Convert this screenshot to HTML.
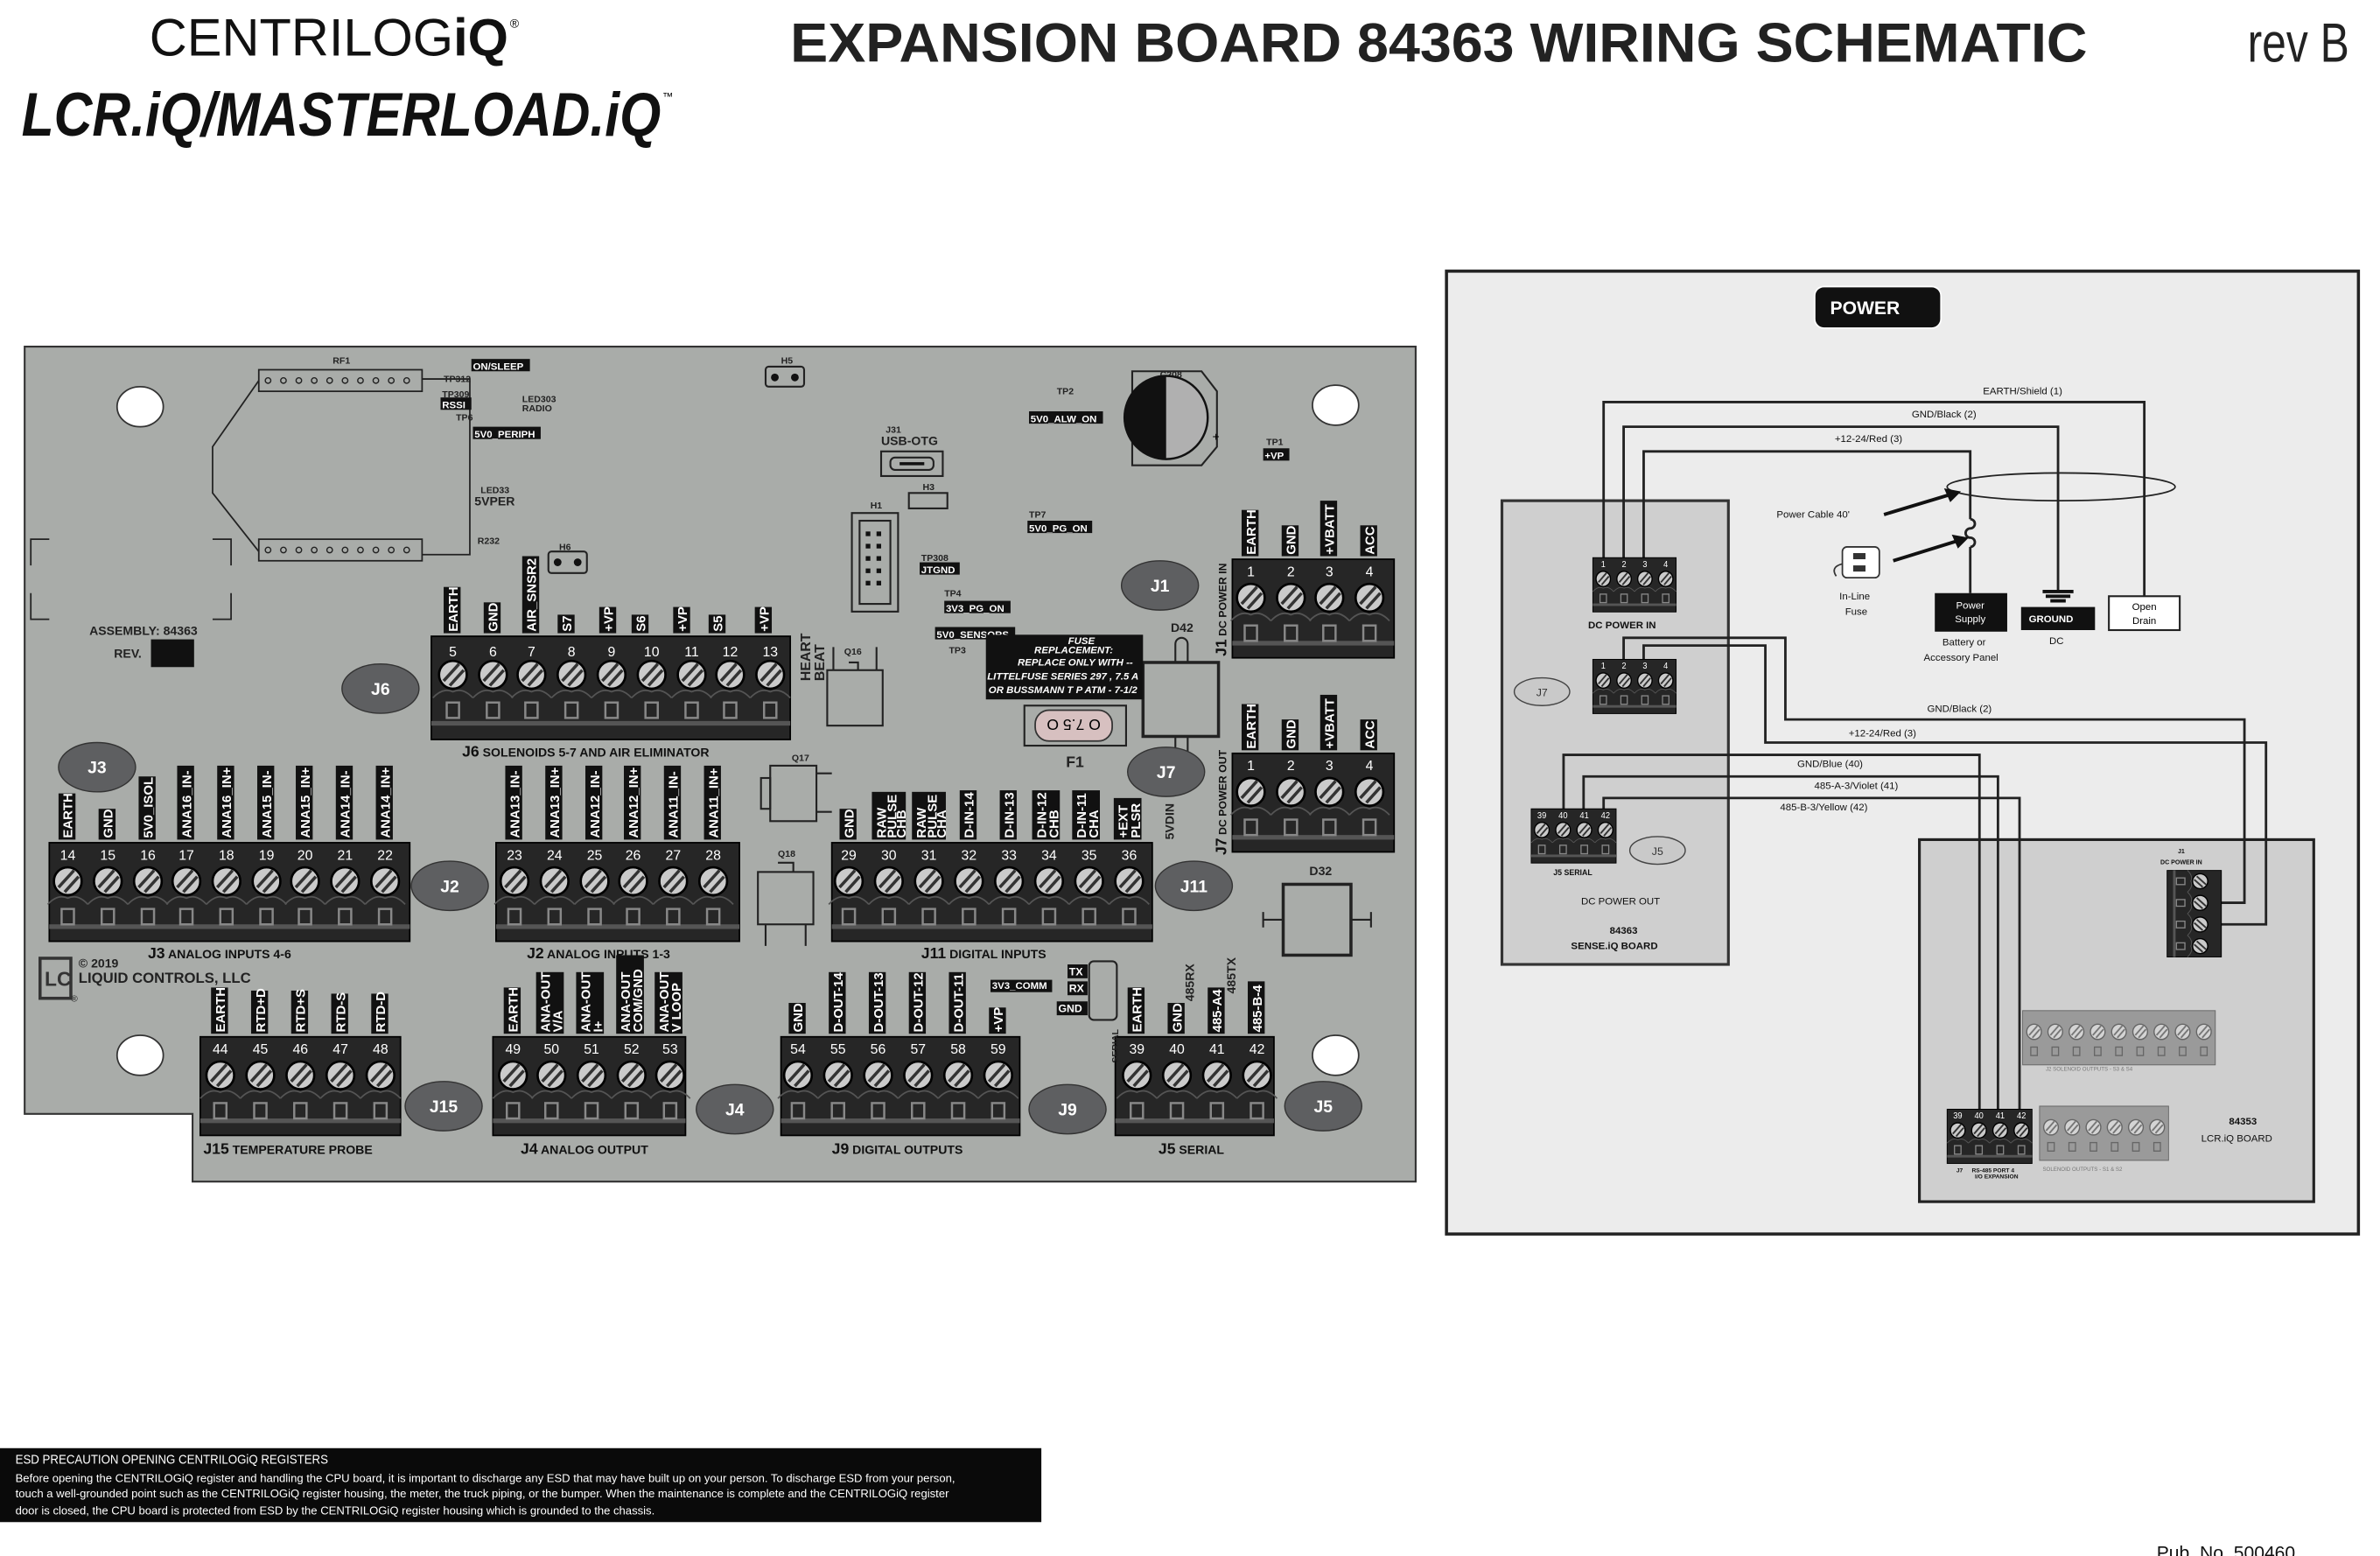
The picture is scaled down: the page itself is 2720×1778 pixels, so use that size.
<!DOCTYPE html>
<html><head><meta charset="utf-8"><style>
html,body{margin:0;padding:0;background:#fff}
svg{display:block}
text{font-family:"Liberation Sans",sans-serif}
.w{fill:#fff}.b{font-weight:bold}
</style></head><body>
<svg width="2720" height="1778" viewBox="0 0 1545 1010" preserveAspectRatio="none" xmlns="http://www.w3.org/2000/svg" xmlns:xlink="http://www.w3.org/1999/xlink">
<defs>
<g id="pin"><path d="M-13,40 q6.5,-7 13,-4 q6.5,-3 13,4" fill="none" stroke="#555" stroke-width="1"/><circle cy="25" r="9" fill="#cacaca" stroke="#000" stroke-width="1.5"/><path d="M-6,29 L4,18 M-2,32 L7,22" stroke="#333" stroke-width="2"/><rect x="-4" y="43" width="8" height="10" fill="none" stroke="#888" stroke-width="1.4"/></g>
<g id="pinG"><circle cy="25" r="9" fill="#d4d4d4" stroke="#666" stroke-width="1.5"/><path d="M-6,29 L4,18 M-2,32 L7,22" stroke="#777" stroke-width="2"/><rect x="-4" y="43" width="8" height="10" fill="none" stroke="#666" stroke-width="1.4"/></g>
</defs>
<rect width="1545" height="1010" fill="#fff"/>
<!-- Header -->
<text x="97" y="36" font-size="34" textLength="233" lengthAdjust="spacingAndGlyphs" fill="#111">CENTRILOG<tspan class="b">iQ</tspan></text>
<text x="331" y="18" font-size="8">®</text>
<text x="14" y="88" font-size="40" font-weight="bold" font-style="italic" textLength="415" lengthAdjust="spacingAndGlyphs" fill="#111">LCR.iQ/MASTERLOAD.iQ</text>
<text x="430" y="65" font-size="7">™</text>
<text x="513" y="40" font-size="36" font-weight="bold" textLength="842" lengthAdjust="spacingAndGlyphs" fill="#222">EXPANSION BOARD 84363 WIRING SCHEMATIC</text>
<text x="1459" y="40" font-size="36" textLength="66" lengthAdjust="spacingAndGlyphs" fill="#222">rev B</text>

<!-- Main board -->
<polygon points="16,225 919,225 919,767 125,767 125,723 16,723" fill="#a9aca9" stroke="#333" stroke-width="1.2"/>
<g fill="#fff" stroke="#333"><ellipse cx="91" cy="264" rx="15" ry="13"/><ellipse cx="867" cy="263" rx="15" ry="13"/><ellipse cx="91" cy="685" rx="15" ry="13"/><ellipse cx="867" cy="685" rx="15" ry="13"/></g>
<!-- RF1 -->
<g stroke="#222" fill="none" stroke-width="1"><rect x="168" y="240" width="106" height="14"/><rect x="168" y="350" width="106" height="14"/><polyline points="274,246 305,246 305,360 274,360"/><polyline points="168,247 138,290 138,320 168,358"/>
<path d="M20,367 V350 H32 M138,350 H150 V367 M20,385 V402 H32 M138,402 H150 V385"/></g>
<g fill="none" stroke="#222" stroke-width="0.8"><circle cx="174" cy="247" r="1.8"/><circle cx="184" cy="247" r="1.8"/><circle cx="194" cy="247" r="1.8"/><circle cx="204" cy="247" r="1.8"/><circle cx="214" cy="247" r="1.8"/><circle cx="224" cy="247" r="1.8"/><circle cx="234" cy="247" r="1.8"/><circle cx="244" cy="247" r="1.8"/><circle cx="254" cy="247" r="1.8"/><circle cx="264" cy="247" r="1.8"/>
<circle cx="174" cy="357" r="1.8"/><circle cx="184" cy="357" r="1.8"/><circle cx="194" cy="357" r="1.8"/><circle cx="204" cy="357" r="1.8"/><circle cx="214" cy="357" r="1.8"/><circle cx="224" cy="357" r="1.8"/><circle cx="234" cy="357" r="1.8"/><circle cx="244" cy="357" r="1.8"/><circle cx="254" cy="357" r="1.8"/><circle cx="264" cy="357" r="1.8"/></g>
<g font-size="6" font-weight="bold" fill="#222">
<text x="216" y="236">RF1</text><text x="288" y="248">TP312</text><text x="287" y="258">TP309</text><text x="296" y="273">TP6</text>
<text x="339" y="261">LED303</text><text x="339" y="267">RADIO</text><text x="312" y="320">LED33</text><text x="308" y="328" font-size="8">5VPER</text><text x="310" y="353">R232</text>
<text x="58" y="412" font-size="8">ASSEMBLY: 84363</text><text x="74" y="427" font-size="8">REV.</text>
<text x="507" y="236">H5</text><text x="575" y="281">J31</text><text x="572" y="289" font-size="8">USB-OTG</text><text x="599" y="318">H3</text><text x="565" y="330">H1</text>
<text x="753" y="245">C208</text><text x="686" y="256">TP2</text><text x="822" y="289">TP1</text><text x="668" y="336">TP7</text><text x="598" y="364">TP308</text><text x="613" y="387">TP4</text><text x="616" y="424">TP3</text>
<text x="760" y="410" font-size="8">D42</text><text x="692" y="498" font-size="10">F1</text><text x="850" y="568" font-size="8">D32</text>
<text x="514" y="494">Q17</text><text x="505" y="556">Q18</text><text x="548" y="425">Q16</text><text x="363" y="357">H6</text>
</g>
<rect x="98" y="415" width="28" height="18" fill="#111"/>
<g fill="#111"><rect x="306" y="233" width="38" height="8"/><rect x="286" y="258" width="20" height="8"/><rect x="307" y="277" width="44" height="8"/><rect x="668" y="267" width="48" height="8"/><rect x="820" y="291" width="17" height="8"/><rect x="667" y="338" width="42" height="8"/><rect x="597" y="365" width="26" height="8"/><rect x="613" y="390" width="43" height="8"/><rect x="607" y="407" width="52" height="8"/></g>
<g font-size="6.5" font-weight="bold" fill="#fff"><text x="307" y="240">ON/SLEEP</text><text x="287" y="265">RSSI</text><text x="308" y="284">5V0_PERIPH</text><text x="669" y="274">5V0_ALW_ON</text><text x="821" y="298">+VP</text><text x="668" y="345">5V0_PG_ON</text><text x="598" y="372">JTGND</text><text x="614" y="397">3V3_PG_ON</text><text x="608" y="414">5V0_SENSORS</text></g>
<!-- components -->
<g stroke="#222" fill="none" stroke-width="1.2">
<rect x="497" y="238" width="25" height="13" rx="2"/><rect x="356" y="358" width="25" height="14" rx="2"/>
<rect x="572" y="293" width="40" height="16"/><rect x="578" y="297" width="28" height="8" rx="3"/>
<rect x="590" y="320" width="25" height="10"/>
<rect x="553" y="333" width="30" height="64"/><rect x="558" y="338" width="20" height="54"/>
<path d="M735,241 H780 L790,254 V290 L780,302 H735 Z"/>
<rect x="537" y="435" width="36" height="36" fill="#a9aca9"/><path d="M541,420 V435 M569,420 V435 M551,430 H557 V435"/>
<rect x="500" y="497" width="30" height="36"/><rect x="494" y="505" width="6" height="20"/><path d="M530,502 H540 M530,527 H540"/>
<rect x="492" y="566" width="36" height="34"/><path d="M497,600 V614 M523,600 V614 M505,560 H515 V566"/>
<rect x="742" y="430" width="49" height="48" stroke-width="2"/><path d="M763,430 V418 a4,4 0 0 1 8,0 V430 M763,478 V490 M771,478 V490"/>
<rect x="833" y="574" width="44" height="46" stroke-width="2"/><path d="M833,597 H820 M877,597 H890 M820,592 V602 M890,592 V602"/>
<rect x="665" y="458" width="66" height="26"/>
<rect x="707" y="624" width="18" height="38" rx="3"/>
</g>
<g fill="#111"><circle cx="503" cy="245" r="2.5"/><circle cx="516" cy="245" r="2.5"/><circle cx="362" cy="365" r="2.5"/><circle cx="375" cy="365" r="2.5"/><rect x="584" y="300" width="16" height="2"/>
<rect x="562" y="345" width="3" height="3"/><rect x="569" y="345" width="3" height="3"/><rect x="562" y="353" width="3" height="3"/><rect x="569" y="353" width="3" height="3"/><rect x="562" y="361" width="3" height="3"/><rect x="569" y="361" width="3" height="3"/><rect x="562" y="369" width="3" height="3"/><rect x="569" y="369" width="3" height="3"/><rect x="562" y="377" width="3" height="3"/><rect x="569" y="377" width="3" height="3"/></g>
<circle cx="757" cy="271" r="27" fill="#b0b0b0" stroke="#111" stroke-width="1.4"/><path d="M757,244 A27,27 0 0 0 757,298 Z" fill="#111"/><text x="787" y="286" font-size="8">+</text>
<rect x="672" y="461" width="50" height="20" rx="9" fill="#d7c0c0" stroke="#333"/><text x="697" y="475" font-size="10" text-anchor="middle" transform="rotate(180 697 471)">O 7.5 O</text>
<rect x="640" y="412" width="102" height="42" fill="#111"/>
<g font-size="6.5" font-weight="bold" font-style="italic" fill="#fff" text-anchor="middle"><text x="702" y="418">FUSE</text><text x="697" y="424">REPLACEMENT:</text><text x="698" y="432">REPLACE ONLY WITH --</text><text x="690" y="441">LITTELFUSE SERIES 297 , 7.5 A</text><text x="690" y="450">OR BUSSMANN T  P   ATM - 7-1/2</text></g>
<!-- H2 serial -->
<rect x="693" y="626" width="13" height="9" fill="#111"/><rect x="693" y="637" width="13" height="9" fill="#111"/><rect x="686" y="650" width="20" height="9" fill="#111"/><rect x="643" y="636" width="40" height="8" fill="#111"/>
<g font-size="7" font-weight="bold" fill="#fff"><text x="694" y="633">TX</text><text x="694" y="644">RX</text><text x="687" y="657">GND</text><text x="644" y="642" font-size="6.5">3V3_COMM</text></g>

<!-- Terminal blocks -->
<g id="J6blk">
<rect x="280" y="413" width="233" height="67" fill="#262626" stroke="#000"/><rect x="280" y="468" width="233" height="3" fill="#555"/>
<g transform="translate(0,413)"><use xlink:href="#pin" x="294"/><use xlink:href="#pin" x="320"/><use xlink:href="#pin" x="345"/><use xlink:href="#pin" x="371"/><use xlink:href="#pin" x="397"/><use xlink:href="#pin" x="423"/><use xlink:href="#pin" x="449"/><use xlink:href="#pin" x="474"/><use xlink:href="#pin" x="500"/></g>
<g font-size="9" fill="#fff" text-anchor="middle"><text x="294" y="426">5</text><text x="320" y="426">6</text><text x="345" y="426">7</text><text x="371" y="426">8</text><text x="397" y="426">9</text><text x="423" y="426">10</text><text x="449" y="426">11</text><text x="474" y="426">12</text><text x="500" y="426">13</text></g>
</g>
<text x="300" y="491" font-size="8" font-weight="bold" fill="#111"><tspan font-size="10">J6</tspan> SOLENOIDS 5-7 AND AIR ELIMINATOR</text>

<g>
<rect x="32" y="547" width="234" height="64" fill="#262626" stroke="#000"/><rect x="32" y="600" width="234" height="3" fill="#555"/>
<g transform="translate(0,547)"><use xlink:href="#pin" x="44"/><use xlink:href="#pin" x="70"/><use xlink:href="#pin" x="96"/><use xlink:href="#pin" x="121"/><use xlink:href="#pin" x="147"/><use xlink:href="#pin" x="173"/><use xlink:href="#pin" x="198"/><use xlink:href="#pin" x="224"/><use xlink:href="#pin" x="250"/></g>
<g font-size="9" fill="#fff" text-anchor="middle"><text x="44" y="558">14</text><text x="70" y="558">15</text><text x="96" y="558">16</text><text x="121" y="558">17</text><text x="147" y="558">18</text><text x="173" y="558">19</text><text x="198" y="558">20</text><text x="224" y="558">21</text><text x="250" y="558">22</text></g>
</g>
<text x="96" y="622" font-size="8" font-weight="bold" fill="#111"><tspan font-size="10">J3</tspan> ANALOG INPUTS 4-6</text>

<g>
<rect x="322" y="547" width="158" height="64" fill="#262626" stroke="#000"/><rect x="322" y="600" width="158" height="3" fill="#555"/>
<g transform="translate(0,547)"><use xlink:href="#pin" x="334"/><use xlink:href="#pin" x="360"/><use xlink:href="#pin" x="386"/><use xlink:href="#pin" x="411"/><use xlink:href="#pin" x="437"/><use xlink:href="#pin" x="463"/></g>
<g font-size="9" fill="#fff" text-anchor="middle"><text x="334" y="558">23</text><text x="360" y="558">24</text><text x="386" y="558">25</text><text x="411" y="558">26</text><text x="437" y="558">27</text><text x="463" y="558">28</text></g>
</g>
<text x="342" y="622" font-size="8" font-weight="bold" fill="#111"><tspan font-size="10">J2</tspan> ANALOG INPUTS 1-3</text>

<g>
<rect x="540" y="547" width="208" height="64" fill="#262626" stroke="#000"/><rect x="540" y="600" width="208" height="3" fill="#555"/>
<g transform="translate(0,547)"><use xlink:href="#pin" x="551"/><use xlink:href="#pin" x="577"/><use xlink:href="#pin" x="603"/><use xlink:href="#pin" x="629"/><use xlink:href="#pin" x="655"/><use xlink:href="#pin" x="681"/><use xlink:href="#pin" x="707"/><use xlink:href="#pin" x="733"/></g>
<g font-size="9" fill="#fff" text-anchor="middle"><text x="551" y="558">29</text><text x="577" y="558">30</text><text x="603" y="558">31</text><text x="629" y="558">32</text><text x="655" y="558">33</text><text x="681" y="558">34</text><text x="707" y="558">35</text><text x="733" y="558">36</text></g>
</g>
<text x="598" y="622" font-size="8" font-weight="bold" fill="#111"><tspan font-size="10">J11</tspan> DIGITAL INPUTS</text>

<g>
<rect x="130" y="673" width="130" height="64" fill="#262626" stroke="#000"/><rect x="130" y="726" width="130" height="3" fill="#555"/>
<g transform="translate(0,673)"><use xlink:href="#pin" x="143"/><use xlink:href="#pin" x="169"/><use xlink:href="#pin" x="195"/><use xlink:href="#pin" x="221"/><use xlink:href="#pin" x="247"/></g>
<g font-size="9" fill="#fff" text-anchor="middle"><text x="143" y="684">44</text><text x="169" y="684">45</text><text x="195" y="684">46</text><text x="221" y="684">47</text><text x="247" y="684">48</text></g>
</g>
<text x="132" y="749" font-size="8" font-weight="bold" fill="#111"><tspan font-size="10">J15</tspan> TEMPERATURE PROBE</text>

<g>
<rect x="320" y="673" width="125" height="64" fill="#262626" stroke="#000"/><rect x="320" y="726" width="125" height="3" fill="#555"/>
<g transform="translate(0,673)"><use xlink:href="#pin" x="333"/><use xlink:href="#pin" x="358"/><use xlink:href="#pin" x="384"/><use xlink:href="#pin" x="410"/><use xlink:href="#pin" x="435"/></g>
<g font-size="9" fill="#fff" text-anchor="middle"><text x="333" y="684">49</text><text x="358" y="684">50</text><text x="384" y="684">51</text><text x="410" y="684">52</text><text x="435" y="684">53</text></g>
</g>
<text x="338" y="749" font-size="8" font-weight="bold" fill="#111"><tspan font-size="10">J4</tspan> ANALOG OUTPUT</text>

<g>
<rect x="507" y="673" width="155" height="64" fill="#262626" stroke="#000"/><rect x="507" y="726" width="155" height="3" fill="#555"/>
<g transform="translate(0,673)"><use xlink:href="#pin" x="518"/><use xlink:href="#pin" x="544"/><use xlink:href="#pin" x="570"/><use xlink:href="#pin" x="596"/><use xlink:href="#pin" x="622"/><use xlink:href="#pin" x="648"/></g>
<g font-size="9" fill="#fff" text-anchor="middle"><text x="518" y="684">54</text><text x="544" y="684">55</text><text x="570" y="684">56</text><text x="596" y="684">57</text><text x="622" y="684">58</text><text x="648" y="684">59</text></g>
</g>
<text x="540" y="749" font-size="8" font-weight="bold" fill="#111"><tspan font-size="10">J9</tspan> DIGITAL OUTPUTS</text>

<g>
<rect x="724" y="673" width="103" height="64" fill="#262626" stroke="#000"/><rect x="724" y="726" width="103" height="3" fill="#555"/>
<g transform="translate(0,673)"><use xlink:href="#pin" x="738"/><use xlink:href="#pin" x="764"/><use xlink:href="#pin" x="790"/><use xlink:href="#pin" x="816"/></g>
<g font-size="9" fill="#fff" text-anchor="middle"><text x="738" y="684">39</text><text x="764" y="684">40</text><text x="790" y="684">41</text><text x="816" y="684">42</text></g>
</g>
<text x="752" y="749" font-size="8" font-weight="bold" fill="#111"><tspan font-size="10">J5</tspan> SERIAL</text>

<g>
<rect x="800" y="363" width="105" height="64" fill="#262626" stroke="#000"/><rect x="800" y="416" width="105" height="3" fill="#555"/>
<g transform="translate(0,363)"><use xlink:href="#pin" x="812"/><use xlink:href="#pin" x="838"/><use xlink:href="#pin" x="863"/><use xlink:href="#pin" x="889"/></g>
<g font-size="9" fill="#fff" text-anchor="middle"><text x="812" y="374">1</text><text x="838" y="374">2</text><text x="863" y="374">3</text><text x="889" y="374">4</text></g>
</g>
<g>
<rect x="800" y="489" width="105" height="64" fill="#262626" stroke="#000"/><rect x="800" y="542" width="105" height="3" fill="#555"/>
<g transform="translate(0,489)"><use xlink:href="#pin" x="812"/><use xlink:href="#pin" x="838"/><use xlink:href="#pin" x="863"/><use xlink:href="#pin" x="889"/></g>
<g font-size="9" fill="#fff" text-anchor="middle"><text x="812" y="500">1</text><text x="838" y="500">2</text><text x="863" y="500">3</text><text x="889" y="500">4</text></g>
</g>
<text transform="translate(796,426) rotate(-90)" font-size="7" font-weight="bold" fill="#111"><tspan font-size="10">J1</tspan> DC POWER IN</text>
<text transform="translate(796,555) rotate(-90)" font-size="7" font-weight="bold" fill="#111"><tspan font-size="10">J7</tspan> DC POWER OUT</text>
<text transform="translate(526,442) rotate(-90)" font-size="9" font-weight="bold" fill="#222">HEART</text>
<text transform="translate(535,442) rotate(-90)" font-size="9" font-weight="bold" fill="#222">BEAT</text>
<text transform="translate(762,545) rotate(-90)" font-size="8" font-weight="bold" fill="#222">5VDIN</text>
<text transform="translate(726,690) rotate(-90)" font-size="6" font-weight="bold" fill="#222">SERIAL</text>

<!-- rotated labels with black background -->
<g font-size="8.5" font-weight="bold" fill="#fff">
<!-- J6 -->
<g transform="translate(289,411) rotate(-90)"><rect y="-1" width="30" height="11" fill="#111"/><text x="1" y="8">EARTH</text></g>
<g transform="translate(315,411) rotate(-90)"><rect y="-1" width="20" height="11" fill="#111"/><text x="1" y="8">GND</text></g>
<g transform="translate(340,411) rotate(-90)"><rect y="-1" width="50" height="11" fill="#111"/><text x="1" y="8">AIR_SNSR2</text></g>
<g transform="translate(363,411) rotate(-90)"><rect y="-1" width="12" height="11" fill="#111"/><text x="1" y="8">S7</text></g>
<g transform="translate(390,411) rotate(-90)"><rect y="-1" width="17" height="11" fill="#111"/><text x="1" y="8">+VP</text></g>
<g transform="translate(411,411) rotate(-90)"><rect y="-1" width="12" height="11" fill="#111"/><text x="1" y="8">S6</text></g>
<g transform="translate(438,411) rotate(-90)"><rect y="-1" width="17" height="11" fill="#111"/><text x="1" y="8">+VP</text></g>
<g transform="translate(461,411) rotate(-90)"><rect y="-1" width="12" height="11" fill="#111"/><text x="1" y="8">S5</text></g>
<g transform="translate(491,411) rotate(-90)"><rect y="-1" width="17" height="11" fill="#111"/><text x="1" y="8">+VP</text></g>
<!-- J3 -->
<g transform="translate(39,545) rotate(-90)"><rect y="-1" width="30" height="11" fill="#111"/><text x="1" y="8">EARTH</text></g>
<g transform="translate(65,545) rotate(-90)"><rect y="-1" width="20" height="11" fill="#111"/><text x="1" y="8">GND</text></g>
<g transform="translate(91,545) rotate(-90)"><rect y="-1" width="41" height="11" fill="#111"/><text x="1" y="8">5V0_ISOL</text></g>
<g transform="translate(116,545) rotate(-90)"><rect y="-1" width="48" height="11" fill="#111"/><text x="1" y="8">ANA16_IN-</text></g>
<g transform="translate(142,545) rotate(-90)"><rect y="-1" width="48" height="11" fill="#111"/><text x="1" y="8">ANA16_IN+</text></g>
<g transform="translate(168,545) rotate(-90)"><rect y="-1" width="48" height="11" fill="#111"/><text x="1" y="8">ANA15_IN-</text></g>
<g transform="translate(193,545) rotate(-90)"><rect y="-1" width="48" height="11" fill="#111"/><text x="1" y="8">ANA15_IN+</text></g>
<g transform="translate(219,545) rotate(-90)"><rect y="-1" width="48" height="11" fill="#111"/><text x="1" y="8">ANA14_IN-</text></g>
<g transform="translate(245,545) rotate(-90)"><rect y="-1" width="48" height="11" fill="#111"/><text x="1" y="8">ANA14_IN+</text></g>
<!-- J2 -->
<g transform="translate(329,545) rotate(-90)"><rect y="-1" width="48" height="11" fill="#111"/><text x="1" y="8">ANA13_IN-</text></g>
<g transform="translate(355,545) rotate(-90)"><rect y="-1" width="48" height="11" fill="#111"/><text x="1" y="8">ANA13_IN+</text></g>
<g transform="translate(381,545) rotate(-90)"><rect y="-1" width="48" height="11" fill="#111"/><text x="1" y="8">ANA12_IN-</text></g>
<g transform="translate(406,545) rotate(-90)"><rect y="-1" width="48" height="11" fill="#111"/><text x="1" y="8">ANA12_IN+</text></g>
<g transform="translate(432,545) rotate(-90)"><rect y="-1" width="48" height="11" fill="#111"/><text x="1" y="8">ANA11_IN-</text></g>
<g transform="translate(458,545) rotate(-90)"><rect y="-1" width="48" height="11" fill="#111"/><text x="1" y="8">ANA11_IN+</text></g>
<!-- J11 -->
<g transform="translate(546,545) rotate(-90)"><rect y="-1" width="20" height="11" fill="#111"/><text x="1" y="8">GND</text></g>
<g transform="translate(567,545) rotate(-90)"><rect y="-1" width="31" height="22" fill="#111"/><text x="1" y="8">RAW</text><text x="1" y="15">PULSE</text><text x="1" y="21">CHB</text></g>
<g transform="translate(593,545) rotate(-90)"><rect y="-1" width="31" height="22" fill="#111"/><text x="1" y="8">RAW</text><text x="1" y="15">PULSE</text><text x="1" y="21">CHA</text></g>
<g transform="translate(624,545) rotate(-90)"><rect y="-1" width="32" height="11" fill="#111"/><text x="1" y="8">D-IN-14</text></g>
<g transform="translate(650,545) rotate(-90)"><rect y="-1" width="32" height="11" fill="#111"/><text x="1" y="8">D-IN-13</text></g>
<g transform="translate(671,545) rotate(-90)"><rect y="-1" width="32" height="18" fill="#111"/><text x="1" y="8">D-IN-12</text><text x="1" y="16">CHB</text></g>
<g transform="translate(697,545) rotate(-90)"><rect y="-1" width="32" height="18" fill="#111"/><text x="1" y="8">D-IN-11</text><text x="1" y="16">CHA</text></g>
<g transform="translate(724,545) rotate(-90)"><rect y="-1" width="27" height="18" fill="#111"/><text x="1" y="8">+EXT</text><text x="1" y="16">PLSR</text></g>
<!-- J1/J7 -->
<g transform="translate(807,361) rotate(-90)"><rect y="-1" width="30" height="11" fill="#111"/><text x="1" y="8">EARTH</text></g>
<g transform="translate(833,361) rotate(-90)"><rect y="-1" width="20" height="11" fill="#111"/><text x="1" y="8">GND</text></g>
<g transform="translate(858,361) rotate(-90)"><rect y="-1" width="36" height="11" fill="#111"/><text x="1" y="8">+VBATT</text></g>
<g transform="translate(884,361) rotate(-90)"><rect y="-1" width="20" height="11" fill="#111"/><text x="1" y="8">ACC</text></g>
<g transform="translate(807,487) rotate(-90)"><rect y="-1" width="30" height="11" fill="#111"/><text x="1" y="8">EARTH</text></g>
<g transform="translate(833,487) rotate(-90)"><rect y="-1" width="20" height="11" fill="#111"/><text x="1" y="8">GND</text></g>
<g transform="translate(858,487) rotate(-90)"><rect y="-1" width="36" height="11" fill="#111"/><text x="1" y="8">+VBATT</text></g>
<g transform="translate(884,487) rotate(-90)"><rect y="-1" width="20" height="11" fill="#111"/><text x="1" y="8">ACC</text></g>
<!-- J15 -->
<g transform="translate(138,671) rotate(-90)"><rect y="-1" width="30" height="11" fill="#111"/><text x="1" y="8">EARTH</text></g>
<g transform="translate(164,671) rotate(-90)"><rect y="-1" width="28" height="11" fill="#111"/><text x="1" y="8">RTD+D</text></g>
<g transform="translate(190,671) rotate(-90)"><rect y="-1" width="28" height="11" fill="#111"/><text x="1" y="8">RTD+S</text></g>
<g transform="translate(216,671) rotate(-90)"><rect y="-1" width="26" height="11" fill="#111"/><text x="1" y="8">RTD-S</text></g>
<g transform="translate(242,671) rotate(-90)"><rect y="-1" width="26" height="11" fill="#111"/><text x="1" y="8">RTD-D</text></g>
<!-- J4 -->
<g transform="translate(328,671) rotate(-90)"><rect y="-1" width="30" height="11" fill="#111"/><text x="1" y="8">EARTH</text></g>
<g transform="translate(349,671) rotate(-90)"><rect y="-1" width="40" height="18" fill="#111"/><text x="1" y="8">ANA-OUT</text><text x="1" y="16">V/A</text></g>
<g transform="translate(375,671) rotate(-90)"><rect y="-1" width="40" height="18" fill="#111"/><text x="1" y="8">ANA-OUT</text><text x="1" y="16">I+</text></g>
<g transform="translate(401,671) rotate(-90)"><rect y="-1" width="51" height="18" fill="#111"/><text x="1" y="8">ANA-OUT</text><text x="1" y="16">COM/GND</text></g>
<g transform="translate(426,671) rotate(-90)"><rect y="-1" width="40" height="18" fill="#111"/><text x="1" y="8">ANA-OUT</text><text x="1" y="16">V LOOP</text></g>
<!-- J9 -->
<g transform="translate(513,671) rotate(-90)"><rect y="-1" width="20" height="11" fill="#111"/><text x="1" y="8">GND</text></g>
<g transform="translate(539,671) rotate(-90)"><rect y="-1" width="40" height="11" fill="#111"/><text x="1" y="8">D-OUT-14</text></g>
<g transform="translate(565,671) rotate(-90)"><rect y="-1" width="40" height="11" fill="#111"/><text x="1" y="8">D-OUT-13</text></g>
<g transform="translate(591,671) rotate(-90)"><rect y="-1" width="40" height="11" fill="#111"/><text x="1" y="8">D-OUT-12</text></g>
<g transform="translate(617,671) rotate(-90)"><rect y="-1" width="40" height="11" fill="#111"/><text x="1" y="8">D-OUT-11</text></g>
<g transform="translate(643,671) rotate(-90)"><rect y="-1" width="17" height="11" fill="#111"/><text x="1" y="8">+VP</text></g>
<!-- J5 -->
<g transform="translate(733,671) rotate(-90)"><rect y="-1" width="30" height="11" fill="#111"/><text x="1" y="8">EARTH</text></g>
<g transform="translate(759,671) rotate(-90)"><rect y="-1" width="20" height="11" fill="#111"/><text x="1" y="8">GND</text></g>
<g transform="translate(785,671) rotate(-90)"><rect y="-1" width="30" height="11" fill="#111"/><text x="1" y="8">485-A4</text></g>
<g transform="translate(811,671) rotate(-90)"><rect y="-1" width="34" height="11" fill="#111"/><text x="1" y="8">485-B-4</text></g>
</g>
<g font-size="8" font-weight="bold" fill="#222"><text transform="translate(775,650) rotate(-90)">485RX</text><text transform="translate(802,645) rotate(-90)">485TX</text></g>

<!-- ellipse labels -->
<g fill="#5e5f61" stroke="#333" stroke-width="0.8">
<ellipse cx="247" cy="447" rx="25" ry="16"/><ellipse cx="63" cy="498" rx="25" ry="16"/><ellipse cx="292" cy="575" rx="25" ry="16"/><ellipse cx="775" cy="575" rx="25" ry="16"/><ellipse cx="753" cy="380" rx="25" ry="16"/><ellipse cx="757" cy="501" rx="25" ry="16"/><ellipse cx="288" cy="718" rx="25" ry="16"/><ellipse cx="477" cy="720" rx="25" ry="16"/><ellipse cx="693" cy="720" rx="25" ry="16"/><ellipse cx="859" cy="718" rx="25" ry="16"/></g>
<g font-family="Liberation Serif,serif" font-size="11" font-weight="bold" fill="#fff" text-anchor="middle">
<text x="247" y="451" font-family="Liberation Serif,serif">J6</text><text x="63" y="502" font-family="Liberation Serif,serif">J3</text><text x="292" y="579" font-family="Liberation Serif,serif">J2</text><text x="775" y="579" font-family="Liberation Serif,serif">J11</text><text x="753" y="384" font-family="Liberation Serif,serif">J1</text><text x="757" y="505" font-family="Liberation Serif,serif">J7</text><text x="288" y="722" font-family="Liberation Serif,serif">J15</text><text x="477" y="724" font-family="Liberation Serif,serif">J4</text><text x="693" y="724" font-family="Liberation Serif,serif">J9</text><text x="859" y="722" font-family="Liberation Serif,serif">J5</text></g>
<!-- LC logo -->
<rect x="26" y="622" width="20" height="26" fill="none" stroke="#333" stroke-width="2"/><text x="29" y="640" font-size="13" font-weight="bold" fill="#333">LC</text>
<text x="51" y="628" font-size="8" font-weight="bold" fill="#222">© 2019</text><text x="51" y="638" font-size="9.5" font-weight="bold" fill="#222">LIQUID CONTROLS, LLC</text><text x="46" y="650" font-size="6" fill="#222">®</text>

<!-- ESD -->
<rect x="0" y="940" width="676" height="48" fill="#0a0a0a"/>
<g fill="#fff" font-size="7.5"><text x="10" y="950" font-size="8.5" textLength="203" lengthAdjust="spacingAndGlyphs">ESD PRECAUTION OPENING CENTRILOGiQ REGISTERS</text>
<text x="10" y="962" textLength="610" lengthAdjust="spacingAndGlyphs">Before opening the CENTRILOGiQ register and handling the CPU board, it is important to discharge any ESD that may have built up on your person. To discharge ESD from your person,</text>
<text x="10" y="972" textLength="606" lengthAdjust="spacingAndGlyphs">touch a well-grounded point such as the CENTRILOGiQ register housing, the meter, the truck piping, or the bumper. When the maintenance is complete and the CENTRILOGiQ register</text>
<text x="10" y="983" textLength="415" lengthAdjust="spacingAndGlyphs">door is closed, the CPU board is protected from ESD by the CENTRILOGiQ register housing which is grounded to the chassis.</text></g>
<text x="1400" y="1012" font-size="12" fill="#111">Pub. No. 500460</text>

<!-- POWER panel -->
<rect x="939" y="176" width="592" height="625" fill="#ececec" stroke="#222" stroke-width="2"/>
<rect x="1178" y="186" width="82" height="27" rx="6" fill="#111" stroke="#fff" stroke-width="1"/><text x="1188" y="204" font-size="12" font-weight="bold" fill="#fff">POWER</text>
<rect x="975" y="325" width="147" height="301" fill="#cfcfcf" stroke="#333" stroke-width="1.8"/>
<rect x="1246" y="545" width="256" height="235" fill="#cfcfcf" stroke="#222" stroke-width="1.8"/>
<g font-size="6.5" fill="#111" font-weight="bold">
<text x="1313" y="256" text-anchor="middle" font-weight="normal">EARTH/Shield (1)</text>
<text x="1262" y="271" text-anchor="middle" font-weight="normal">GND/Black (2)</text>
<text x="1213" y="287" text-anchor="middle" font-weight="normal">+12-24/Red (3)</text>
<text x="1177" y="336" text-anchor="middle" font-weight="normal">Power Cable 40'</text>
<text x="1204" y="389" text-anchor="middle" font-weight="normal">In-Line</text><text x="1205" y="399" text-anchor="middle" font-weight="normal">Fuse</text>
<text x="1275" y="419" text-anchor="middle" font-weight="normal">Battery or</text><text x="1273" y="429" text-anchor="middle" font-weight="normal">Accessory Panel</text>
<text x="1335" y="418" text-anchor="middle" font-weight="normal">DC</text>
<text x="1053" y="408" text-anchor="middle">DC POWER IN</text>
<text x="1272" y="462" text-anchor="middle" font-weight="normal">GND/Black (2)</text>
<text x="1222" y="478" text-anchor="middle" font-weight="normal">+12-24/Red (3)</text>
<text x="1188" y="498" text-anchor="middle" font-weight="normal">GND/Blue (40)</text>
<text x="1205" y="512" text-anchor="middle" font-weight="normal">485-A-3/Violet (41)</text>
<text x="1184" y="526" text-anchor="middle" font-weight="normal">485-B-3/Yellow (42)</text>
<text x="1052" y="587" text-anchor="middle" font-weight="normal">DC POWER OUT</text>
<text x="1054" y="606" text-anchor="middle">84363</text><text x="1048" y="616" text-anchor="middle">SENSE.iQ BOARD</text>
<text x="1456" y="730" text-anchor="middle">84353</text><text x="1452" y="741" text-anchor="middle" font-weight="normal">LCR.iQ BOARD</text>
<text x="1021" y="568" text-anchor="middle" font-size="5">J5 SERIAL</text>
<text x="1416" y="554" text-anchor="middle" font-size="4">J1</text><text x="1416" y="561" text-anchor="middle" font-size="4">DC POWER IN</text>
</g>
<!-- wires -->
<g fill="none" stroke="#222" stroke-width="1.6">
<polyline points="1041,365 1041,261 1392,261 1392,387"/>
<polyline points="1054,365 1054,277 1336,277 1336,384"/>
<polyline points="1067,365 1067,293 1279,293 1279,337"/>
<path d="M1279,337 a3,3 0 0 1 0,6 a3,3 0 0 1 0,0 M1279,343 a3,3 0 1 0 0,6 M1279,349 a3,3 0 0 1 0,6"/>
<line x1="1279" y1="355" x2="1279" y2="385"/>
<polyline points="1054,430 1054,414 1159,414 1159,467 1457,467 1457,586 1442,586"/>
<polyline points="1067,430 1067,419 1146,419 1146,482 1471,482 1471,600 1442,600"/>
<polyline points="1015,527 1015,490 1285,490 1285,720"/>
<polyline points="1028,527 1028,504 1297,504 1297,720"/>
<polyline points="1041,527 1041,518 1311,518 1311,720"/>
<ellipse cx="1338" cy="316" rx="74" ry="9" stroke-width="1"/>
</g>
<g stroke="#111" stroke-width="2.2"><line x1="1223" y1="334" x2="1266" y2="321"/><line x1="1229" y1="364" x2="1271" y2="351"/><line x1="1326" y1="384" x2="1346" y2="384"/><line x1="1328" y1="387" x2="1344" y2="387"/><line x1="1331" y1="390" x2="1341" y2="390"/></g>
<polygon points="1273,319 1262,317 1266,326" fill="#111"/><polygon points="1278,349 1267,347 1271,356" fill="#111"/>
<rect x="1196" y="355" width="24" height="20" rx="3" fill="#fff" stroke="#333"/><rect x="1203" y="359" width="8" height="4" fill="#333"/><rect x="1203" y="367" width="8" height="4" fill="#333"/><path d="M1196,366 q-8,2 -4,8" fill="none" stroke="#333"/>
<rect x="1256" y="385" width="47" height="25" fill="#111"/><text x="1279" y="395" font-size="6.5" fill="#fff" text-anchor="middle">Power</text><text x="1279" y="404" font-size="6.5" fill="#fff" text-anchor="middle">Supply</text>
<rect x="1312" y="394" width="48" height="15" fill="#111"/><text x="1317" y="404" font-size="6.5" font-weight="bold" fill="#fff">GROUND</text>
<rect x="1369" y="387" width="46" height="22" fill="#fff" stroke="#222" stroke-width="1.2"/><text x="1392" y="396" font-size="6.5" text-anchor="middle">Open</text><text x="1392" y="405" font-size="6.5" text-anchor="middle">Drain</text>
<!-- small terminal blocks -->
<g transform="translate(1034,362) scale(0.52,0.55)"><rect width="104" height="64" fill="#262626" stroke="#000"/><rect y="54" width="104" height="3" fill="#555"/><use xlink:href="#pin" x="13"/><use xlink:href="#pin" x="39"/><use xlink:href="#pin" x="65"/><use xlink:href="#pin" x="91"/><g font-size="10" fill="#fff" text-anchor="middle"><text x="13" y="11">1</text><text x="39" y="11">2</text><text x="65" y="11">3</text><text x="91" y="11">4</text></g></g>
<g transform="translate(1034,428) scale(0.52,0.55)"><rect width="104" height="64" fill="#262626" stroke="#000"/><rect y="54" width="104" height="3" fill="#555"/><use xlink:href="#pin" x="13"/><use xlink:href="#pin" x="39"/><use xlink:href="#pin" x="65"/><use xlink:href="#pin" x="91"/><g font-size="10" fill="#fff" text-anchor="middle"><text x="13" y="11">1</text><text x="39" y="11">2</text><text x="65" y="11">3</text><text x="91" y="11">4</text></g></g>
<g transform="translate(994,525) scale(0.53,0.55)"><rect width="104" height="64" fill="#262626" stroke="#000"/><rect y="54" width="104" height="3" fill="#555"/><use xlink:href="#pin" x="13"/><use xlink:href="#pin" x="39"/><use xlink:href="#pin" x="65"/><use xlink:href="#pin" x="91"/><g font-size="10" fill="#fff" text-anchor="middle"><text x="13" y="11">39</text><text x="39" y="11">40</text><text x="65" y="11">41</text><text x="91" y="11">42</text></g></g>
<g transform="translate(1264,720) scale(0.53,0.55)"><rect width="104" height="64" fill="#262626" stroke="#000"/><rect y="54" width="104" height="3" fill="#555"/><use xlink:href="#pin" x="13"/><use xlink:href="#pin" x="39"/><use xlink:href="#pin" x="65"/><use xlink:href="#pin" x="91"/><g font-size="10" fill="#fff" text-anchor="middle"><text x="13" y="11">39</text><text x="39" y="11">40</text><text x="65" y="11">41</text><text x="91" y="11">42</text></g></g>
<g transform="translate(1442,565) rotate(90) scale(0.54,0.55)"><rect width="104" height="64" fill="#262626" stroke="#000"/><rect y="54" width="104" height="3" fill="#555"/><use xlink:href="#pin" x="13"/><use xlink:href="#pin" x="39"/><use xlink:href="#pin" x="65"/><use xlink:href="#pin" x="91"/></g>
<g transform="translate(1313,656) scale(0.53,0.55)"><rect width="236" height="64" fill="#9a9a9a" stroke="#666"/><use xlink:href="#pinG" x="14"/><use xlink:href="#pinG" x="40"/><use xlink:href="#pinG" x="66"/><use xlink:href="#pinG" x="92"/><use xlink:href="#pinG" x="118"/><use xlink:href="#pinG" x="144"/><use xlink:href="#pinG" x="170"/><use xlink:href="#pinG" x="196"/><use xlink:href="#pinG" x="222"/></g>
<g transform="translate(1324,718) scale(0.53,0.55)"><rect width="158" height="64" fill="#9a9a9a" stroke="#666"/><use xlink:href="#pinG" x="14"/><use xlink:href="#pinG" x="40"/><use xlink:href="#pinG" x="66"/><use xlink:href="#pinG" x="92"/><use xlink:href="#pinG" x="118"/><use xlink:href="#pinG" x="144"/></g>
<g font-size="3.5" fill="#777"><text x="1328" y="695">J2   SOLENOID OUTPUTS - S3 &amp; S4</text><text x="1326" y="760">SOLENOID OUTPUTS - S1 &amp; S2</text></g>
<g font-size="3.8" font-weight="bold" fill="#111"><text x="1280" y="761">RS-485 PORT 4</text><text x="1282" y="765">I/O EXPANSION</text><text x="1270" y="761">J7</text></g>
<g fill="#c9c9c9" stroke="#444" stroke-width="0.8"><ellipse cx="1001" cy="449" rx="18" ry="9"/><ellipse cx="1076" cy="552" rx="18" ry="9"/></g>
<text x="1001" y="452" font-size="7" text-anchor="middle" fill="#333">J7</text><text x="1076" y="555" font-size="7" text-anchor="middle" fill="#333">J5</text>
</svg>
</body></html>
